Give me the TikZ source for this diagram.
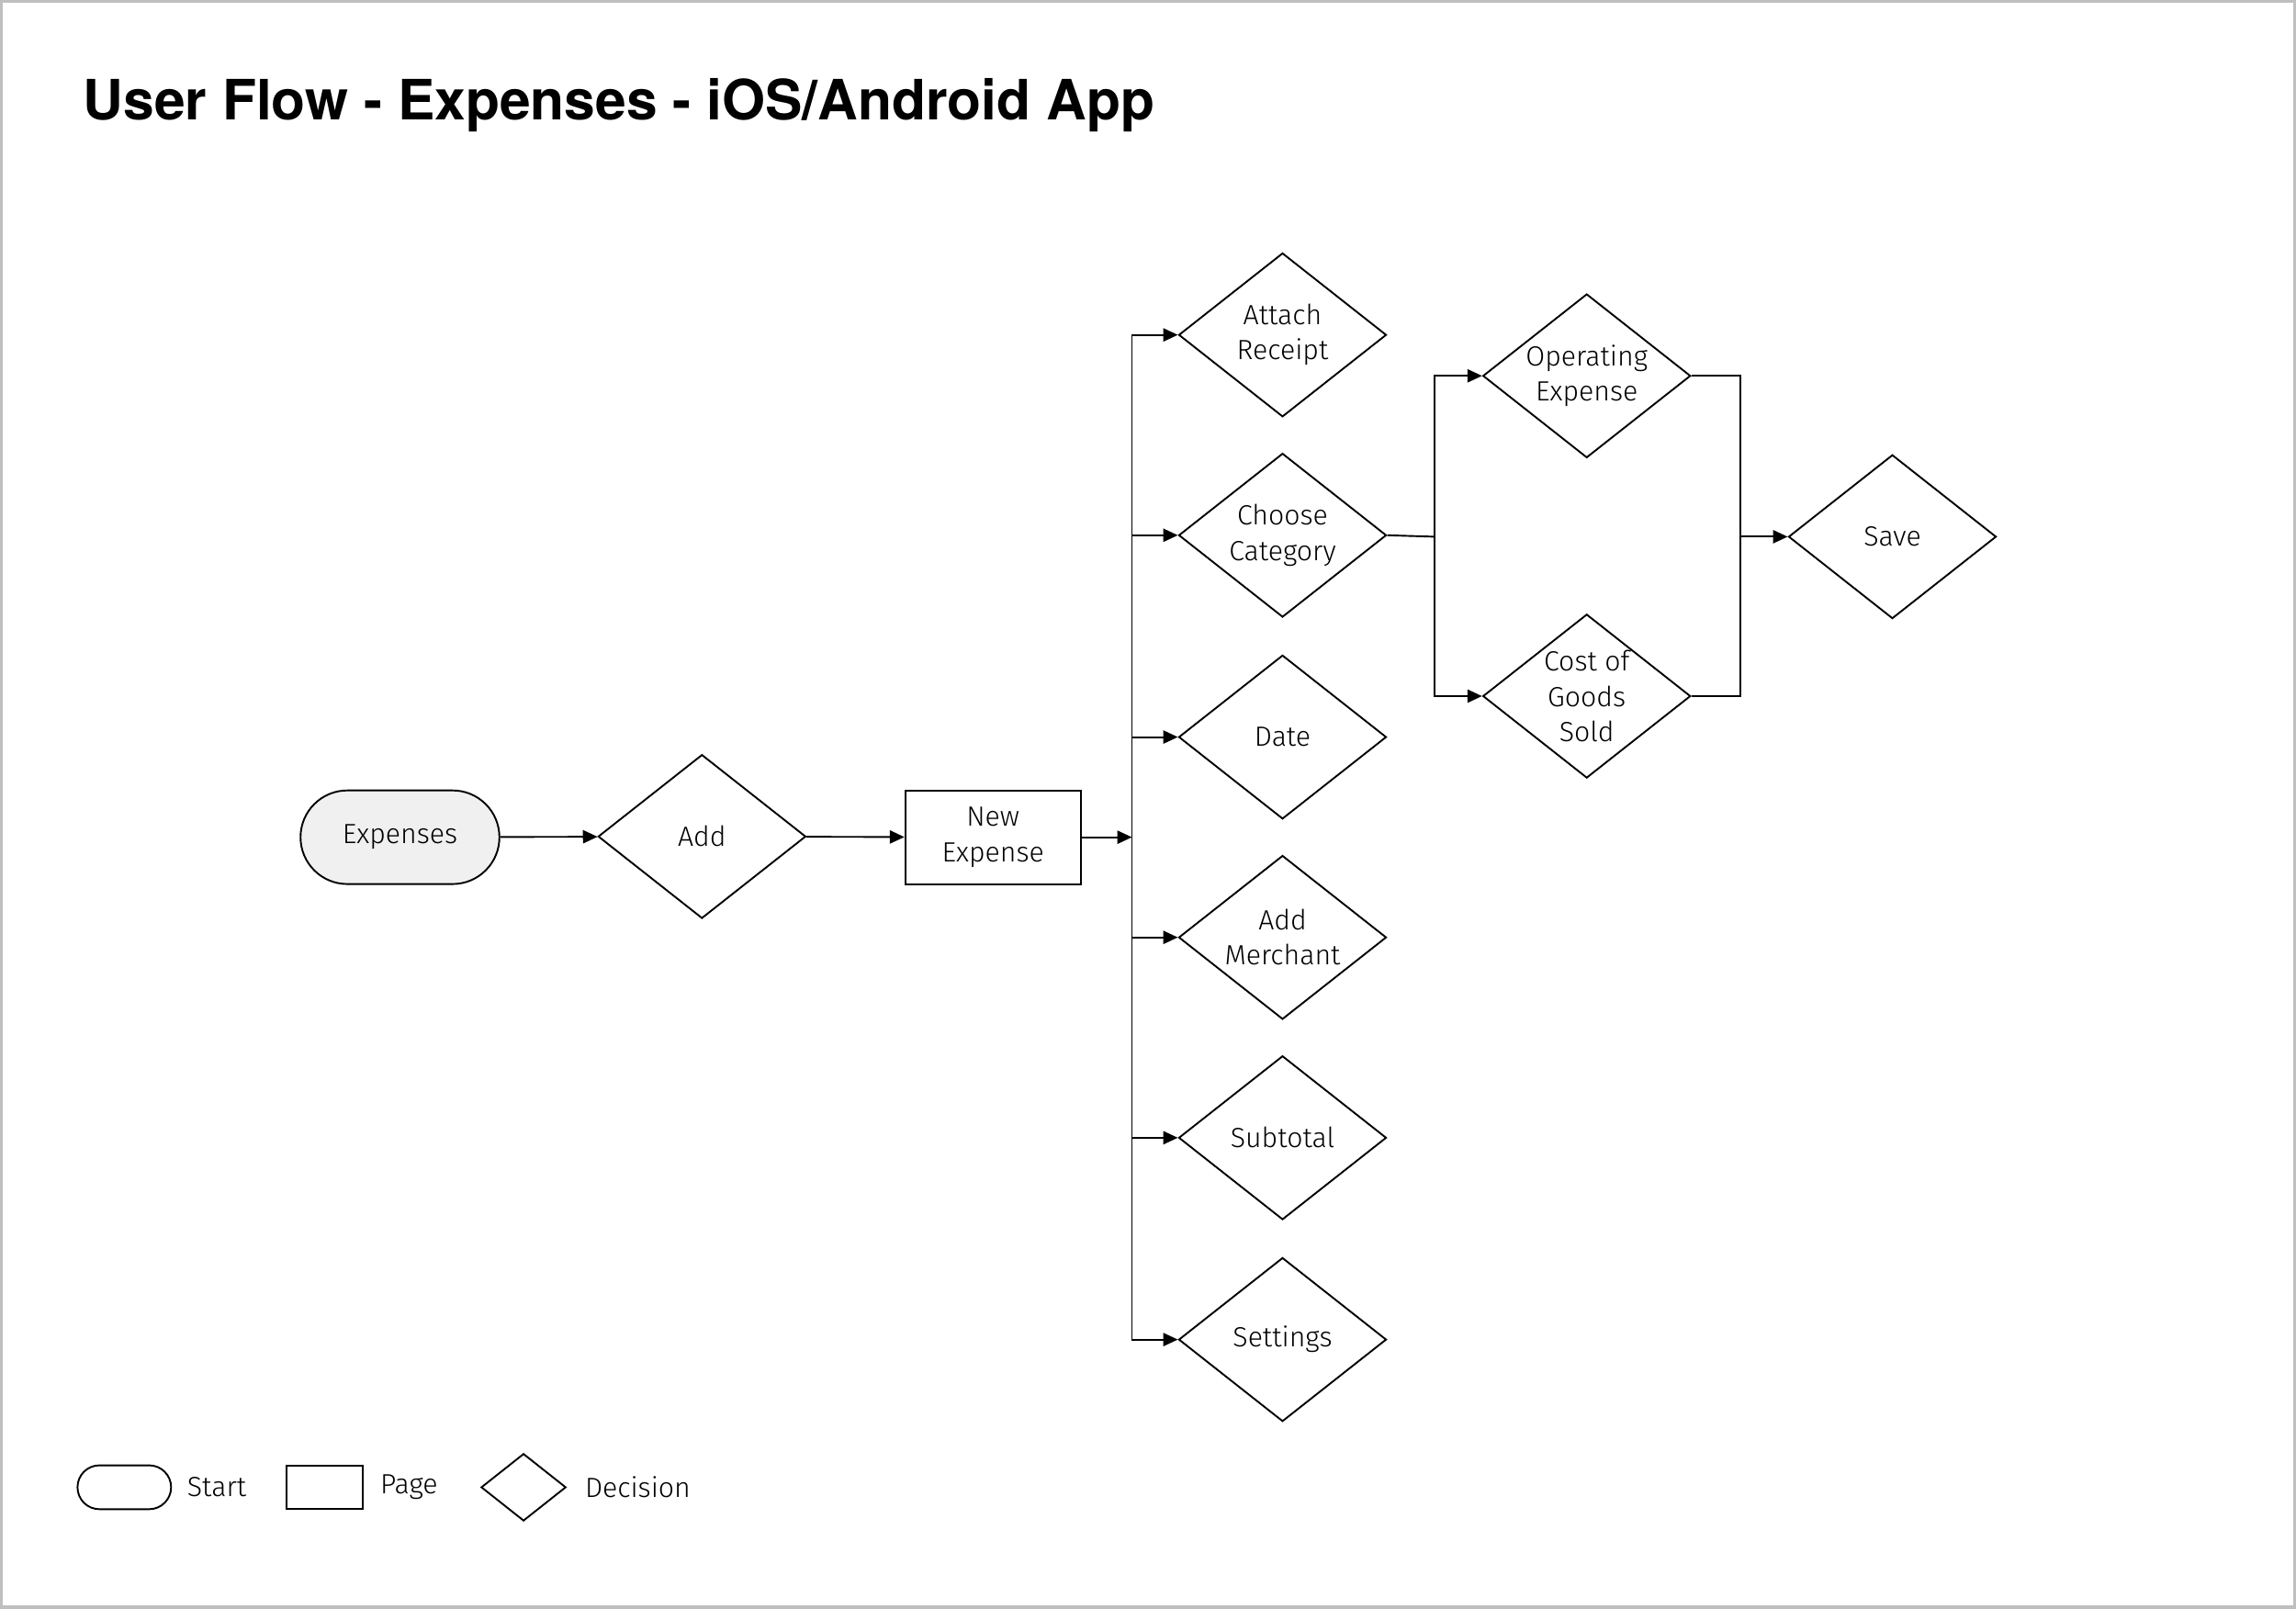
\documentclass[tikz,border=0pt]{standalone}
\usepackage{fontspec}
\setmainfont{Fira Sans}[UprightFont=* Light]
\newfontfamily\titlefont{TeX Gyre Heros}
\usetikzlibrary{shapes.geometric,arrows.meta}
\begin{document}
\begin{tikzpicture}[x=0.5pt,y=-0.5pt,
  every node/.style={font=\fontsize{9.5}{12}\selectfont, align=center, text=black},
  dec/.style={diamond, draw, line width=0.6pt, aspect=1.27, minimum width=71pt, minimum height=56pt, inner sep=0pt},
  page/.style={rectangle, draw, line width=0.6pt, minimum width=60pt, minimum height=32pt, inner sep=0pt},
  start/.style={rectangle, rounded corners=16pt, draw, line width=0.6pt, fill=black!6, minimum width=68pt, minimum height=32pt},
  ln/.style={line width=0.6pt},
  arr/.style={ln, -{Triangle[length=5pt,width=4.5pt]}}]
\draw[black!25, line width=1pt] (0,0) rectangle (1568,1098);
\useasboundingbox (0,0) rectangle (1568,1098);
\node[anchor=west, font=\titlefont\fontsize{19}{22}\selectfont\bfseries] (title) at (49,71) {User Flow - Expenses - iOS/Android App};
\node[start] (exp) at (272.5,571.5) {Expenses};
\node[dec] (add) at (479,571) {Add};
\node[page] (new) at (678,571.5) {New\\Expense};
\coordinate (t0) at (773,571.5);
\node[dec] (att) at (876,228) {Attach\\Receipt};
\node[dec] (cat) at (876,365) {Choose\\Category};
\node[dec] (date) at (876,503) {Date};
\node[dec] (mer) at (876,640) {Add\\Merchant};
\node[dec] (sub) at (876,777) {Subtotal};
\node[dec] (set) at (876,915) {Settings};
\node[dec] (op) at (1084,256) {Operating\\Expense};
\node[dec] (cogs) at (1084,475) {Cost of\\Goods\\Sold};
\node[dec] (save) at (1293,366) {Save};
\draw[arr] (exp) -- (add);
\draw[arr] (add) -- (new);
\draw[arr] (new) -- (t0);
\draw[ln] (att.west -| t0) -- (set.west -| t0);
\foreach \n in {att,cat,date,mer,sub,set} \draw[arr] (\n.west -| t0) -- (\n.west);
\coordinate (b1) at (980,366);
\draw[ln] (cat.east) -- (b1);
\draw[arr] (b1) |- (op.west);
\draw[arr] (b1) |- (cogs.west);
\coordinate (b2) at (1189,366);
\draw[ln] (op.east) -| (b2);
\draw[ln] (cogs.east) -| (b2);
\draw[arr] (b2) -- (save.west);
% legend
\node[rectangle, rounded corners=7.5pt, draw, line width=0.6pt, minimum width=32pt, minimum height=15pt] (ls) at (84,1016) {};
\node[anchor=west] (lst) at (120,1016) {Start};
\node[rectangle, draw, line width=0.6pt, minimum width=26pt, minimum height=15pt] (lp) at (221,1016) {};
\node[anchor=west] (lpt) at (252,1016) {Page};
\node[diamond, draw, line width=0.6pt, aspect=1.26, minimum width=29pt, minimum height=23pt, inner sep=0pt] (ld) at (357,1016) {};
\node[anchor=west] (ldt) at (392,1016) {Decision};
\end{tikzpicture}
\end{document}
